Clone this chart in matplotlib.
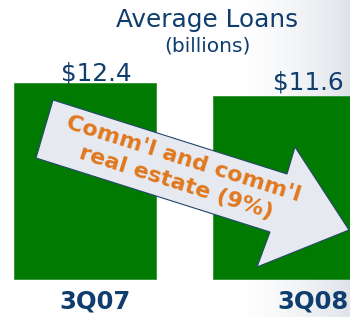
import matplotlib
matplotlib.use('Agg')
import matplotlib.pyplot as plt
import numpy as np
from matplotlib.patches import Polygon

# ---- data ----
categories = ['3Q07', '3Q08']
values = [12.4, 11.6]
value_labels = ['$12.4', '$11.6']
title = 'Average Loans'
subtitle = '(billions)'
arrow_text = "Comm'l and comm'l\nreal estate (9%)"

# ---- styling / layout ----
W, H = 350, 317
NAVY = '#0f3d6e'
GREEN = '#017a01'
ORANGE = '#e0781e'
label_dx = [11, 24]
label_dy = [3, 6]
cat_dx = [10, 29]

fig = plt.figure(figsize=(W / 100, H / 100), dpi=100)

# background gradient
bg = fig.add_axes([0, 0, 1, 1])
bg.axis('off')
xs = np.linspace(0, W, W)
ys = np.linspace(0, H, H)
X, Y = np.meshgrid(xs, ys)
t = np.clip((X - 240) / 110, 0, 1) ** 1.4
c0 = np.array([1.0, 1.0, 1.0])
c1 = np.array([0xe0, 0xe4, 0xe9]) / 255
img = c0[None, None, :] * (1 - t[..., None]) + c1[None, None, :] * t[..., None]
bg.imshow(img, extent=[0, 1, 0, 1], aspect='auto', transform=bg.transAxes)

ax = fig.add_axes([0, 0, 1, 1])
ax.patch.set_alpha(0)
ax.axis('off')
px_per_cat = 199.0
px_per_unit = 15.8
x0_px = 85.0
base_px = 38.0
ax.set_xlim(-x0_px / px_per_cat, (W - x0_px) / px_per_cat)
ax.set_ylim(-base_px / px_per_unit, (H - base_px) / px_per_unit)

xpos = np.arange(len(categories))
ax.bar(xpos, values, width=142 / px_per_cat, color=GREEN,
       edgecolor='#2f8f2f', linewidth=0.6, zorder=2)

for i, (v, lab) in enumerate(zip(values, value_labels)):
    ax.annotate(lab, xy=(xpos[i], v), xytext=(label_dx[i], label_dy[i]),
                textcoords='offset pixels', ha='center', va='baseline',
                fontsize=17.8, color=NAVY, zorder=5)
    ax.annotate(categories[i], xy=(xpos[i], 0), xytext=(cat_dx[i], -22),
                textcoords='offset pixels', ha='center', va='center',
                fontsize=17.5, fontweight='bold', color=NAVY, zorder=5)

fig.text(207 / W, 1 - 20 / H, title, ha='center', va='center',
         fontsize=17.8, color=NAVY)
fig.text(207 / W, 1 - 46 / H, subtitle, ha='center', va='center',
         fontsize=14.5, color=NAVY)

# decorative arrow (pixel coords from top-left)
pts = [(53, 100), (287, 174), (295, 147), (349, 230), (257, 267),
       (270, 232), (36, 158)]
poly = Polygon([(x / W, 1 - y / H) for x, y in pts], closed=True,
               transform=fig.transFigure, facecolor='#e6eaf0',
               edgecolor='#24466b', linewidth=0.8, zorder=3)
ax.add_patch(poly)
fig.text(180 / W, 1 - 171 / H, arrow_text, ha='center', va='center',
         rotation=-17.5, rotation_mode='anchor', multialignment='center',
         fontsize=16, fontweight='bold', color=ORANGE, linespacing=1.28,
         zorder=6)

fig.savefig('out.png', dpi=100)
